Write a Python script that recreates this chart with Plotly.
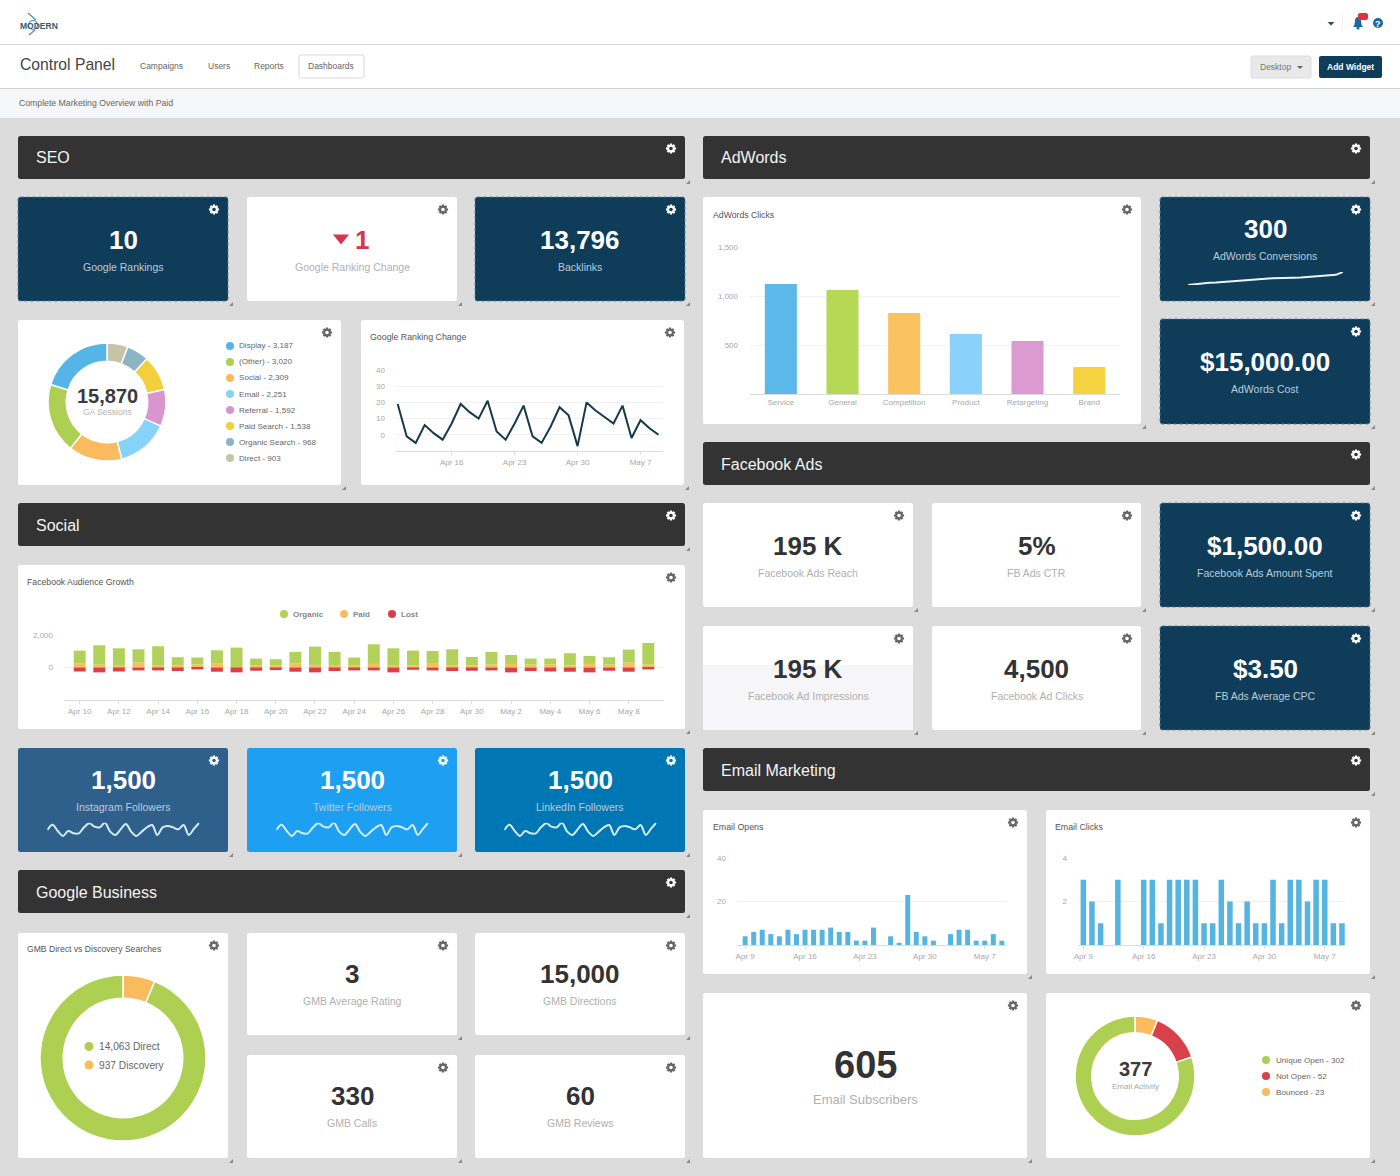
import math
import pandas as pd
import plotly.graph_objects as go

W, H = 1400, 1176
FONT = "Liberation Sans"

# 값은 스크린샷에서 읽은 추정치
seo_values = ["10", "13,796"]
seo_labels = ["Google Rankings", "Backlinks"]
rank_change_value = "1"
rank_change_label = "Google Ranking Change"

ga_names = ["Display", "(Other)", "Social", "Email", "Referral", "Paid Search", "Organic Search", "Direct"]
ga_values = [3187, 3020, 2309, 2251, 1592, 1538, 968, 903]
ga_colors = ["#55b5e6", "#aed052", "#f9bb5d", "#86d2f8", "#d896d0", "#f3cf3b", "#8cb4c4", "#c6c3a8"]

rank_days = pd.date_range("2018-04-10", periods=30)
rank_values = [19, -1, -5, 6, 1, -3, 7, 19, 14, 10, 21, 2, -3, 7, 18, -1, -5, 5, 17, 12, -7, 20, 15, 11, 7, 18, -2, 9, 4, 0]
rank_ticks = ["2018-04-16", "2018-04-23", "2018-04-30", "2018-05-07"]
rank_ticktext = ["Apr 16", "Apr 23", "Apr 30", "May 7"]

growth_days = pd.date_range("2018-04-10", periods=30)
growth_organic = [775, 1197, 1073, 822, 1196, 512, 412, 795, 1164, 440, 390, 694, 1125, 849, 492, 1208, 1033, 920, 790, 1002, 533, 779, 555, 370, 350, 747, 494, 452, 802, 1310]
growth_paid = [265, 170, 110, 300, 110, 120, 200, 265, 60, 110, 120, 265, 160, 110, 120, 220, 150, 120, 230, 120, 120, 180, 220, 180, 200, 130, 220, 180, 300, 200]
growth_lost = [-245, -300, -245, -180, -180, -220, -120, -260, -300, -200, -160, -260, -300, -220, -180, -180, -300, -140, -180, -220, -200, -180, -300, -220, -245, -260, -300, -200, -260, -120]
growth_ticks = ["2018-04-10", "2018-04-12", "2018-04-14", "2018-04-16", "2018-04-18", "2018-04-20", "2018-04-22", "2018-04-24", "2018-04-26", "2018-04-28", "2018-04-30", "2018-05-02", "2018-05-04", "2018-05-06", "2018-05-08"]
growth_ticktext = ["Apr 10", "Apr 12", "Apr 14", "Apr 16", "Apr 18", "Apr 20", "Apr 22", "Apr 24", "Apr 26", "Apr 28", "Apr 30", "May 2", "May 4", "May 6", "May 8"]
growth_series = ["Organic", "Paid", "Lost"]
growth_colors = ["#b1d15a", "#f9bf5c", "#d9414a"]

social_values = ["1,500", "1,500", "1,500"]
social_labels = ["Instagram Followers", "Twitter Followers", "LinkedIn Followers"]
social_fills = ["#2f5f8b", "#1ea0f2", "#0077b5"]
social_spark = [22, 38, 19, 4, 19, 12, 12, 30, 42, 32, 30, 44, 17, 7, 24, 40, 17, 4, 17, 30, 37, 7, 30, 34, 30, 24, 37, 7, 26, 44]

gmb_names = ["Direct", "Discovery"]
gmb_values = [14063, 937]
gmb_colors = ["#aed052", "#f9bb5d"]
gmb_tile_values = ["3", "15,000", "330", "60"]
gmb_tile_labels = ["GMB Average Rating", "GMB Directions", "GMB Calls", "GMB Reviews"]

adwords_cats = ["Service", "General", "Competition", "Product", "Retargeting", "Brand"]
adwords_clicks = [1122, 1061, 826, 612, 541, 275]
adwords_colors = ["#5bb8e8", "#b5d955", "#fbc261", "#8ad2fb", "#db9bd2", "#f5d240"]
conversions_spark = [0, 3, 5, 7, 8, 10, 12, 14, 16, 18, 19, 20, 21, 21, 22, 23, 24, 26, 28, 30, 31, 32, 41]

fb_values = ["195 K", "5%", "$1,500.00", "195 K", "4,500", "$3.50"]
fb_labels = ["Facebook Ads Reach", "FB Ads CTR", "Facebook Ads Amount Spent", "Facebook Ad Impressions", "Facebook Ad Clicks", "FB Ads Average CPC"]

email_days = pd.date_range("2018-04-09", periods=31)
email_opens = [4, 6, 7, 5, 4, 7, 5, 7, 7, 7, 8, 6, 6, 2, 2, 8, 0, 4, 1, 23, 6, 4, 2, 0, 5, 7, 7, 2, 2, 5, 2]
email_clicks = [3, 2, 1, 0, 3, 0, 0, 3, 3, 1, 3, 3, 3, 3, 1, 1, 3, 2, 1, 2, 1, 1, 3, 1, 3, 3, 2, 3, 3, 1, 1]
email_ticks = ["2018-04-09", "2018-04-16", "2018-04-23", "2018-04-30", "2018-05-07"]
email_ticktext = ["Apr 9", "Apr 16", "Apr 23", "Apr 30", "May 7"]

activity_names = ["Unique Open", "Not Open", "Bounced"]
activity_values = [302, 52, 23]
activity_colors = ["#aed052", "#d9414a", "#f9bb5d"]

NAVY = "#0e3c59"
DARK = "#333333"
BG = "#dcdcdc"

shapes = []
annotations = []
fig = go.Figure()


def X(x):
    return x / W


def Y(y):
    return 1 - y / H


def rounded(x0, y0, x1, y1, r):
    return (f"M{X(x0 + r)} {Y(y0)} L{X(x1 - r)} {Y(y0)} Q{X(x1)} {Y(y0)} {X(x1)} {Y(y0 + r)} "
            f"L{X(x1)} {Y(y1 - r)} Q{X(x1)} {Y(y1)} {X(x1 - r)} {Y(y1)} "
            f"L{X(x0 + r)} {Y(y1)} Q{X(x0)} {Y(y1)} {X(x0)} {Y(y1 - r)} "
            f"L{X(x0)} {Y(y0 + r)} Q{X(x0)} {Y(y0)} {X(x0 + r)} {Y(y0)} Z")


def path_shape(path, fill, line=None):
    shapes.append(dict(type="path", path=path, xref="paper", yref="paper", layer="below",
                       fillcolor=fill, line=line or dict(width=0)))


def rect(x0, y0, x1, y1, fill):
    shapes.append(dict(type="rect", xref="paper", yref="paper", layer="below", x0=X(x0), x1=X(x1),
                       y0=Y(y1), y1=Y(y0), fillcolor=fill, line=dict(width=0)))


def dot(cx, cy, r, fill):
    shapes.append(dict(type="circle", xref="paper", yref="paper", layer="below", x0=X(cx - r), x1=X(cx + r),
                       y0=Y(cy + r), y1=Y(cy - r), fillcolor=fill, line=dict(width=0)))


def txt(x, y, text, size=9, color="#555555", bold=False, anchor="left", family=FONT):
    # annotations sit about a pixel right of the anchor
    if anchor == "left":
        x -= 1
    annotations.append(dict(x=X(x), y=Y(y), xref="paper", yref="paper", showarrow=False, text=f"<b>{text}</b>" if bold else text,
                            xanchor=anchor, yanchor="middle", borderpad=0,
                            font=dict(size=size, color=color, family=family)))


def gear(cx, cy, color, r=5.2):
    pts = []
    for i in range(8):
        a = i * math.pi / 4
        for da, rr in [(-0.36, 0.72), (-0.2, 1.0), (0.2, 1.0), (0.36, 0.72)]:
            pts.append((cx + r * rr * math.cos(a + da), cy + r * rr * math.sin(a + da)))
    path = "M" + " L".join(f"{X(p[0])} {Y(p[1])}" for p in pts) + " Z "
    hole = [(cx + r * 0.36 * math.cos(i * math.pi / 4), cy + r * 0.36 * math.sin(i * math.pi / 4)) for i in range(8)]
    path += "M" + " L".join(f"{X(p[0])} {Y(p[1])}" for p in hole) + " Z"
    path_shape(path, color)


def panel(x0, y0, x1, y1, fill="white", gear_color="#666666", dotted=False):
    line = dict(color="#5f7f93", width=1, dash="dot") if dotted else None
    path_shape(rounded(x0, y0, x1, y1, 2.5), fill, line)
    gear(x1 - 14, y0 + 12.5, gear_color)
    # resize handle
    path_shape(f"M{X(x1 + 5)} {Y(y1 + 1)} L{X(x1 + 5)} {Y(y1 + 5)} L{X(x1 + 1)} {Y(y1 + 5)} Z", "#8a8a8a")


def header(x0, y0, x1, title):
    panel(x0, y0, x1, y0 + 43, DARK, "white")
    txt(x0 + 18, y0 + 22, title, 16, "#f4f4f4")


def kpi(x0, y0, x1, y1, value, label, fill="white", vy=43, ly=70):
    dark = fill != "white"
    panel(x0, y0, x1, y1, fill, "white" if dark else "#666666", dotted=fill == NAVY)
    cx = (x0 + x1) / 2
    txt(cx, y0 + vy, value, 26, "white" if dark else "#333333", True, "center")
    txt(cx, y0 + ly, label, 10.5, "#bccbd8" if dark else "#b0b0b0", False, "center")


axis_no = 1


def axes(x0, y0, x1, y1, xcfg, ycfg):
    global axis_no
    axis_no += 1
    n = axis_no
    xbase = dict(domain=[X(x0), X(x1)], anchor=f"y{n}", showgrid=False, zeroline=False, fixedrange=True,
                 tickfont=dict(size=8, color="#a8a8a8", family=FONT))
    ybase = dict(domain=[Y(y1), Y(y0)], anchor=f"x{n}", showgrid=False, zeroline=False, fixedrange=True,
                 tickfont=dict(size=8, color="#a8a8a8", family=FONT))
    xbase.update(xcfg)
    ybase.update(ycfg)
    fig.update_layout(**{f"xaxis{n}": xbase, f"yaxis{n}": ybase})
    return f"x{n}", f"y{n}"


def day_range(first, left_days, right_days):
    t = pd.Timestamp(first)
    return [t + pd.Timedelta(days=left_days), t + pd.Timedelta(days=right_days)]


def date_x(first, left_days, right_days, ticks, ticktext):
    return dict(type="date", range=day_range(first, left_days, right_days), tickvals=ticks, ticktext=ticktext,
                showline=True, linecolor="#dddddd", linewidth=1, ticks="outside", ticklen=3, tickcolor="#dddddd")


def grid_y(rng, vals, text=None, standoff=9):
    return dict(range=rng, tickvals=vals, ticktext=text or [str(v) for v in vals], showgrid=True,
                gridcolor="#f1f1f1", gridwidth=1, ticklabelstandoff=standoff)


def spark(x0, y0, x1, y1, values, rng, color, smooth):
    days = list(range(len(values)))
    xa, ya = axes(x0, y0, x1, y1, dict(range=[0, len(values) - 1], visible=False), dict(range=rng, visible=False))
    fig.add_trace(go.Scatter(x=days, y=values, mode="lines", xaxis=xa, yaxis=ya, cliponaxis=False,
                             line=dict(color=color, width=2, shape="spline" if smooth else "linear")))


def donut(cx, cy, r, hole, values, labels, colors):
    # legend order runs anticlockwise from 12 o'clock in the original, so feed it reversed
    fig.add_trace(go.Pie(values=values[::-1], labels=labels[::-1], hole=hole, sort=False, direction="clockwise", rotation=0,
                         textinfo="none", marker=dict(colors=colors[::-1], line=dict(color="white", width=1.5)),
                         domain=dict(x=[X(cx - r), X(cx + r)], y=[Y(cy + r), Y(cy - r)])))


# page chrome
rect(0, 0, W, 44, "white")
rect(0, 44, W, 45, "#d6d6d6")
rect(0, 45, W, 88, "white")
rect(0, 88, W, 89, "#cfcfcf")
rect(0, 89, W, 118, "#f5f6f8")

txt(20, 26, "MODERN", 8.5, "#2f5d73", True)
shapes.append(dict(type="circle", xref="paper", yref="paper", layer="below", x0=X(28.5), x1=X(37.5), y0=Y(29.5), y1=Y(20.5),
                   line=dict(color="#4a8fa8", width=1.2)))
shapes.append(dict(type="line", xref="paper", yref="paper", layer="below", x0=X(28), x1=X(36), y0=Y(13), y1=Y(20),
                   line=dict(color="#4a8fa8", width=1.2)))
shapes.append(dict(type="line", xref="paper", yref="paper", layer="below", x0=X(35), x1=X(29), y0=Y(30), y1=Y(35),
                   line=dict(color="#4a8fa8", width=1.2)))

txt(20, 65, "Control Panel", 15.7, "#444444")
txt(140, 66, "Campaigns", 8.5, "#666666")
txt(208, 66, "Users", 8.5, "#666666")
txt(254, 66, "Reports", 8.5, "#666666")
path_shape(rounded(299, 55, 364, 78, 2), "white", dict(color="#d8d8d8", width=1))
txt(308, 66, "Dashboards", 8.5, "#666666")
txt(19, 103, "Complete Marketing Overview with Paid", 8.7, "#666666")
path_shape(rounded(1251, 56, 1311, 78, 2), "#e9e9e9", dict(color="#dddddd", width=1))
txt(1260, 67, "Desktop", 8.5, "#777777")
path_shape(f"M{X(1297)} {Y(66)} L{X(1303)} {Y(66)} L{X(1300)} {Y(69)} Z", "#666666")
path_shape(rounded(1319, 56, 1382, 78, 2), NAVY)
txt(1350.5, 67, "Add Widget", 8.5, "white", True, "center")
path_shape(f"M{X(1327.5)} {Y(22)} L{X(1334.5)} {Y(22)} L{X(1331)} {Y(25.5)} Z", "#2f4f63")
rect(1342, 15, 1343, 31, "#eeeeee")
path_shape(f"M{X(1353)} {Y(27)} Q{X(1355)} {Y(25)} {X(1355)} {Y(21)} Q{X(1355)} {Y(17)} {X(1358)} {Y(17)} "
           f"Q{X(1361)} {Y(17)} {X(1361)} {Y(21)} Q{X(1361)} {Y(25)} {X(1363)} {Y(27)} Z", "#1c6a9c")
dot(1358, 28, 1.6, "#1c6a9c")
path_shape(rounded(1358, 13, 1368, 20, 2), "#e2303e")
dot(1378, 23, 5, "#1c6a9c")
txt(1378, 23.5, "?", 9, "white", True, "center")

# SEO
header(18, 136, 685, "SEO")
kpi(18, 197, 228, 301, seo_values[0], seo_labels[0], NAVY)
panel(247, 197, 457, 301)
path_shape(f"M{X(333)} {Y(234.5)} L{X(349)} {Y(234.5)} L{X(341)} {Y(244.5)} Z", "#d9344a")
txt(362, 240, rank_change_value, 26, "#d9344a", True, "center")
txt(352, 267, rank_change_label, 10.5, "#b0b0b0", False, "center")
kpi(475, 197, 685, 301, seo_values[1], seo_labels[1], NAVY)

panel(18, 320, 341, 485)
donut(107, 402, 59, 0.69, ga_values, ga_names, ga_colors)
txt(107, 396, f"{15870:,}", 20, "#3a3a3a", True, "center")
txt(107, 412, "GA Sessions", 8.5, "#b5b5b5", False, "center")
for i, (name, val) in enumerate(zip(ga_names, ga_values)):
    dot(230, 346 + 16 * i, 4, ga_colors[i])
    txt(239, 346 + 16 * i, f"{name} - {val:,}", 8.1, "#666666")

panel(361, 320, 684, 485)
txt(370, 337, "Google Ranking Change", 8.8, "#555555")
xa, ya = axes(395, 370, 663, 451, date_x("2018-04-10", -0.3, 29.5, rank_ticks, rank_ticktext),
              grid_y([-10, 40], [0, 10, 20, 30, 40]))
fig.add_trace(go.Scatter(x=rank_days, y=rank_values, mode="lines", xaxis=xa, yaxis=ya,
                         line=dict(color="#17394a", width=2)))

# Social
header(18, 503, 685, "Social")
panel(18, 565, 685, 729)
txt(27, 582, "Facebook Audience Growth", 8.7, "#555555")
for cx, name, c in zip([284, 344, 392], growth_series, growth_colors):
    dot(cx, 614, 4, c)
    txt(cx + 9, 614.5, name, 8, "#888888", True)
xa, ya = axes(64, 635, 664, 700, date_x("2018-04-10", -0.8, 29.8, growth_ticks, growth_ticktext),
              grid_y([-2000, 2000], [0, 2000], ["0", "2,000"], 10))
day_ms = 86400000
for name, vals, c in zip(["Paid", "Organic", "Lost"], [growth_paid, growth_organic, growth_lost],
                         [growth_colors[1], growth_colors[0], growth_colors[2]]):
    fig.add_trace(go.Bar(x=growth_days, y=vals, name=name, xaxis=xa, yaxis=ya, marker=dict(color=c, line=dict(width=0)),
                         width=0.61 * day_ms))

for i, tile_x in enumerate([18, 247, 475]):
    kpi(tile_x, 748, tile_x + 210, 852, social_values[i], social_labels[i], social_fills[i], 32, 59)
    spark(tile_x + 29.3, 822.7, tile_x + 181.3, 837.3, social_spark, [0, 44], "#d4ecfb", True)

# Google Business
header(18, 870, 685, "Google Business")
panel(18, 933, 228, 1158)
txt(27, 949, "GMB Direct vs Discovery Searches", 8.6, "#555555")
donut(123, 1058, 83, 0.72, gmb_values, gmb_names, gmb_colors)
for i, (name, val) in enumerate(zip(gmb_names, gmb_values)):
    dot(89, 1046.5 + 18.5 * i, 4.5, gmb_colors[i])
    txt(99, 1046.5 + 18.5 * i, f"{val:,} {name}", 10.2, "#666666")
kpi(247, 933, 457, 1035, gmb_tile_values[0], gmb_tile_labels[0], vy=41, ly=68)
kpi(475, 933, 685, 1035, gmb_tile_values[1], gmb_tile_labels[1], vy=41, ly=68)
kpi(247, 1055, 457, 1158, gmb_tile_values[2], gmb_tile_labels[2], vy=41, ly=68)
kpi(475, 1055, 685, 1158, gmb_tile_values[3], gmb_tile_labels[3], vy=41, ly=68)

# AdWords
header(703, 136, 1370, "AdWords")
panel(703, 197, 1141, 424)
txt(713, 215, "AdWords Clicks", 8.7, "#555555")
xa, ya = axes(750, 247, 1120, 394,
              dict(type="category", categoryorder="array", categoryarray=adwords_cats, range=[-0.5, 5.5], showline=True,
                   linecolor="#dddddd", ticks="", ticklen=0),
              grid_y([0, 1500], [500, 1000, 1500], ["500", "1,000", "1,500"], 11))
fig.add_trace(go.Bar(x=adwords_cats, y=adwords_clicks, xaxis=xa, yaxis=ya, width=0.52,
                     marker=dict(color=adwords_colors, line=dict(width=0))))
kpi(1160, 197, 1370, 301, "300", "AdWords Conversions", NAVY, 32, 59)
spark(1188, 272, 1343, 285, conversions_spark, [0, 41], "#e8f5fc", False)
kpi(1160, 319, 1370, 424, "$15,000.00", "AdWords Cost", NAVY)

# Facebook Ads
header(703, 442, 1370, "Facebook Ads")
kpi(703, 503, 913, 607, fb_values[0], fb_labels[0])
kpi(932, 503, 1141, 607, fb_values[1], fb_labels[1])
kpi(1160, 503, 1370, 607, fb_values[2], fb_labels[2], NAVY)
kpi(703, 626, 913, 730, fb_values[3], fb_labels[3])
rect(703, 665, 913, 730, "#f6f6f9")
kpi(932, 626, 1141, 730, fb_values[4], fb_labels[4])
kpi(1160, 626, 1370, 730, fb_values[5], fb_labels[5], NAVY)

# Email
header(703, 748, 1370, "Email Marketing")
panel(703, 810, 1027, 974)
txt(713, 827, "Email Opens", 8.8, "#555555")
xa, ya = axes(737, 858, 1007, 945, date_x("2018-04-09", -0.95, 30.6, email_ticks, email_ticktext),
              grid_y([0, 40], [20, 40], None, 10))
fig.add_trace(go.Bar(x=email_days, y=email_opens, xaxis=xa, yaxis=ya, width=0.58 * day_ms,
                     marker=dict(color="#55b4e0", line=dict(width=0))))
panel(1046, 810, 1370, 974)
txt(1055, 827, "Email Clicks", 8.8, "#555555")
xa, ya = axes(1078, 858, 1345, 945, date_x("2018-04-09", -0.62, 30.35, email_ticks, email_ticktext),
              grid_y([0, 4], [2, 4], None, 10))
fig.add_trace(go.Bar(x=email_days, y=email_clicks, xaxis=xa, yaxis=ya, width=0.64 * day_ms,
                     marker=dict(color="#55b4e0", line=dict(width=0))))

panel(703, 993, 1027, 1158)
txt(865, 1065, "605", 38, "#333333", True, "center")
txt(865, 1099, "Email Subscribers", 13, "#b0b0b0", False, "center")
panel(1046, 993, 1370, 1158)
donut(1135, 1076, 60, 0.72, activity_values, activity_names, activity_colors)
txt(1135, 1069, "377", 20, "#3a3a3a", True, "center")
txt(1135, 1086, "Email Activity", 8, "#a8a8a8", False, "center")
for i, (name, val) in enumerate(zip(activity_names, activity_values)):
    dot(1266, 1060 + 16 * i, 4, activity_colors[i])
    txt(1276, 1060 + 16 * i, f"{name} - {val}", 8.1, "#666666")

fig.update_layout(width=W, height=H, margin=dict(l=0, r=0, t=0, b=0), template="none", paper_bgcolor=BG,
                  plot_bgcolor="rgba(0,0,0,0)", showlegend=False, barmode="relative", hovermode=False,
                  font=dict(family=FONT), shapes=shapes, annotations=annotations)

fig.write_html("out.html", config=dict(displayModeBar=False),
               post_script="document.body.style.margin='0';document.documentElement.style.overflow='hidden';")
